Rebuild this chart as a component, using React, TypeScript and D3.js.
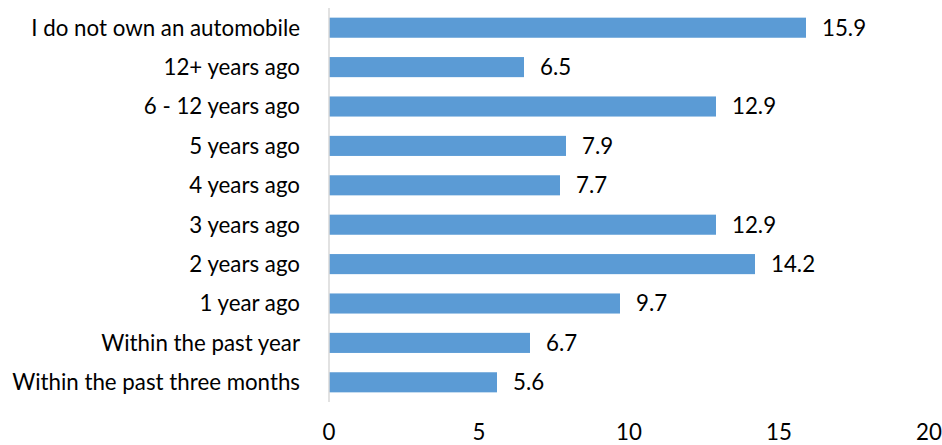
import React from "react";
import * as d3 from "d3";

const categories = [
  "I do not own an automobile",
  "12+ years ago",
  "6 - 12 years ago",
  "5 years ago",
  "4 years ago",
  "3 years ago",
  "2 years ago",
  "1 year ago",
  "Within the past year",
  "Within the past three months",
];
const values = [15.9, 6.5, 12.9, 7.9, 7.7, 12.9, 14.2, 9.7, 6.7, 5.6];
const ticks = [0, 5, 10, 15, 20];

const W = 942;
const H = 445;
const font = "Lato, 'Open Sans', sans-serif";
const fs = 22.3;

export default function App() {
  const x = d3.scaleLinear().domain([0, 20]).range([329, 929]);
  const y = d3
    .scaleBand<string>()
    .domain(categories)
    .range([8, 402])
    .paddingInner(0.49)
    .paddingOuter(0.245);
  const bw = y.bandwidth();
  return (
    <svg
      width={W}
      height={H}
      style={{ position: "absolute", left: 0, top: 0, background: "#fff" }}
    >
      {categories.map((c, i) => {
        const yy = y(c)!;
        return (
          <g key={c}>
            <rect
              x={x(0)}
              y={yy}
              width={x(values[i]) - x(0)}
              height={bw}
              fill="#5b9bd5"
            />
            <text
              x={x(values[i]) + 16}
              y={yy + bw / 2}
              dy="0.35em"
              fontFamily={font}
              fontSize={fs}
              fill="#000"
            >
              {values[i].toFixed(1)}
            </text>
            <text
              x={300}
              y={yy + bw / 2}
              dy="0.35em"
              textAnchor="end"
              fontFamily={font}
              fontSize={fs}
              fill="#000"
            >
              {c}
            </text>
          </g>
        );
      })}
      <line x1={x(0)} x2={x(0)} y1={8} y2={402} stroke="#d9d9d9" strokeWidth={1.5} />
      {ticks.map((t) => (
        <text
          key={t}
          x={x(t)}
          y={440}
          textAnchor="middle"
          fontFamily={font}
          fontSize={fs}
          fill="#000"
        >
          {t}
        </text>
      ))}
    </svg>
  );
}
